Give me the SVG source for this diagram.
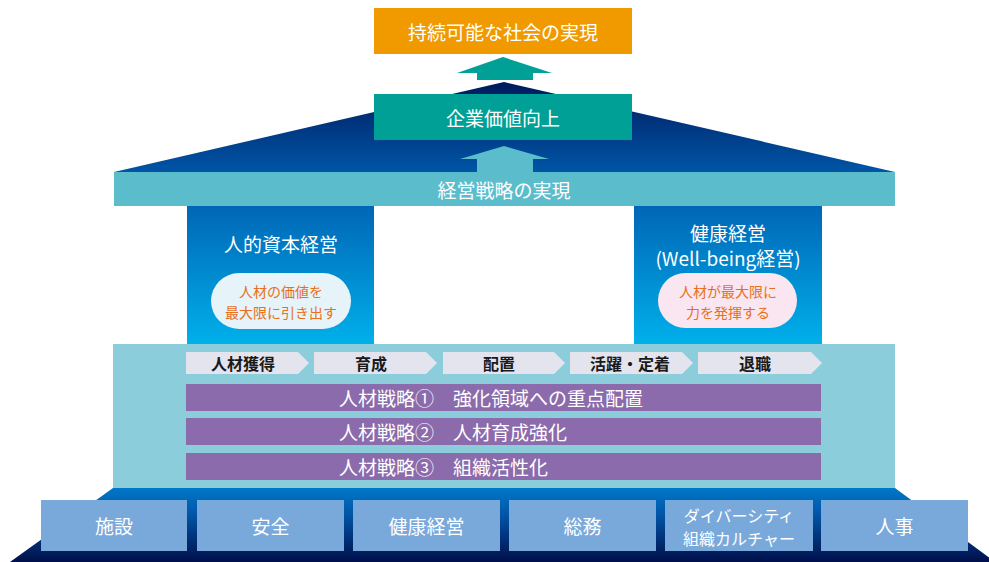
<svg xmlns="http://www.w3.org/2000/svg" width="989" height="562" viewBox="0 0 989 562">
<defs>
<linearGradient id="roofG" x1="0" y1="0" x2="0" y2="1">
<stop offset="0" stop-color="#001a5c"/>
<stop offset="1" stop-color="#0055a6"/>
</linearGradient>
<linearGradient id="pillarG" x1="0" y1="0" x2="0" y2="1">
<stop offset="0" stop-color="#0066b6"/>
<stop offset="1" stop-color="#00b0ea"/>
</linearGradient>
<linearGradient id="baseG" x1="0" y1="0" x2="0" y2="1">
<stop offset="0" stop-color="#0078c8"/>
<stop offset="0.35" stop-color="#0056a8"/>
<stop offset="1" stop-color="#000f4c"/>
</linearGradient>
<style>
text{font-family:"Noto Sans CJK JP","Noto Sans CJK SC",sans-serif;text-anchor:middle;dominant-baseline:central}
.w{fill:#ffffff}
.t19{font-size:19px}
.t16{font-size:16px}
.pill{font-size:14px;fill:#e8701a}
.chev{fill:#e4e4ef}
.chevt{font-size:16px;font-weight:bold;fill:#1a1a1a}
.bar{fill:#8b6bab}
.bart{font-size:19px;fill:#ffffff;text-anchor:start}
.box{fill:#79a9db}
</style>
</defs>

<g id="base">
<polygon points="113,488 895,488 995,562 10,562" fill="url(#baseG)"/>
</g>

<g id="roof">
<polygon points="114,172 504,82 895,172" fill="url(#roofG)"/>
</g>

<g id="goal">
<rect x="374" y="8" width="258" height="46" fill="#f09a00"/>
<text class="w t19" x="503" y="31">持続可能な社会の実現</text>
</g>

<g id="value">
<rect x="374" y="94" width="258" height="46" fill="#00a096"/>
<text class="w t19" x="503" y="117">企業価値向上</text>
</g>

<g id="connectors">
<polygon points="503,57 552,73 533,73 533,80 477,80 477,73 457,73" fill="#00a096"/>
<polygon points="504,146 549,159 533,159 533,172 477,172 477,159 460,159" fill="#5bbdcc"/>
</g>

<g id="strategy">
<rect x="114" y="172" width="781" height="34" fill="#5bbdcc"/>
<text class="w t19" x="504" y="189">経営戦略の実現</text>
</g>

<g id="pillar-left">
<rect x="187" y="206" width="187" height="138" fill="url(#pillarG)"/>
<text class="w t19" x="281" y="243">人的資本経営</text>
<rect x="211" y="273" width="140" height="56" rx="28" fill="#e6f3f9"/>
<text class="pill" x="281" y="291">人材の価値を</text>
<text class="pill" x="281" y="312">最大限に引き出す</text>
</g>

<g id="pillar-right">
<rect x="634" y="206" width="188" height="138" fill="url(#pillarG)"/>
<text class="w t19" x="728" y="232">健康経営</text>
<text class="w t19" x="728" y="257">(Well-being経営)</text>
<rect x="658" y="273" width="139" height="55" rx="27.5" fill="#f9e6f1"/>
<text class="pill" x="728" y="291">人材が最大限に</text>
<text class="pill" x="728" y="312">力を発揮する</text>
</g>

<g id="hr-area">
<rect x="113" y="344" width="782" height="144" fill="#8ccddb"/>
</g>

<g id="process">
<g id="step1"><polygon class="chev" points="186,352 298,352 309,363 298,374 186,374"/><text class="chevt" x="243" y="363">人材獲得</text></g>
<g id="step2"><polygon class="chev" points="314,352 426,352 437,363 426,374 314,374"/><text class="chevt" x="371" y="363">育成</text></g>
<g id="step3"><polygon class="chev" points="443,352 554,352 565,363 554,374 443,374"/><text class="chevt" x="499" y="363">配置</text></g>
<g id="step4"><polygon class="chev" points="570,352 682,352 693,363 682,374 570,374"/><text class="chevt" x="630" y="363">活躍・定着</text></g>
<g id="step5"><polygon class="chev" points="698,352 811,352 822,363 811,374 698,374"/><text class="chevt" x="755" y="363">退職</text></g>
</g>

<g id="strategy1"><rect class="bar" x="186" y="384" width="635" height="27"/><text class="bart" x="339" y="397.5">人材戦略①　強化領域への重点配置</text></g>
<g id="strategy2"><rect class="bar" x="186" y="418" width="635" height="27"/><text class="bart" x="339" y="431.5">人材戦略②　人材育成強化</text></g>
<g id="strategy3"><rect class="bar" x="186" y="453" width="635" height="27"/><text class="bart" x="339" y="466.5">人材戦略③　組織活性化</text></g>

<g id="dept1"><rect class="box" x="41" y="500" width="146" height="51"/><text class="w t19" x="114" y="525.5">施設</text></g>
<g id="dept2"><rect class="box" x="197" y="500" width="147" height="51"/><text class="w t19" x="270.5" y="525.5">安全</text></g>
<g id="dept3"><rect class="box" x="353" y="500" width="147" height="51"/><text class="w t19" x="426.5" y="525.5">健康経営</text></g>
<g id="dept4"><rect class="box" x="509" y="500" width="147" height="51"/><text class="w t19" x="582.5" y="525.5">総務</text></g>
<g id="dept5"><rect class="box" x="665" y="500" width="148" height="51"/><text class="w t16" x="739" y="514.5">ダイバーシティ</text><text class="w t16" x="739" y="538">組織カルチャー</text></g>
<g id="dept6"><rect class="box" x="821" y="500" width="147" height="51"/><text class="w t19" x="894.5" y="525.5">人事</text></g>
</svg>
